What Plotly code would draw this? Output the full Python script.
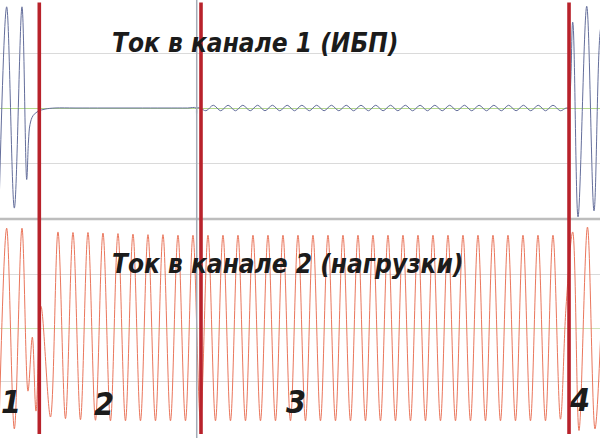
import plotly.graph_objects as go

# ---------------- data (time in ms, current in grid units) ----------------
# Channel 1 (UPS current): key points outside the ripple interval
CH1_T = [-1.3, 8.9, 19.1, 29.3, 35.6, 38.0, 40.0, 44.0, 50.7, 60.0, 73.3,
         100.0, 140.0, 180.0, 220.0, 250.0, 261.3, 262.0, 262.7, 266.7,
         754.7, 757.3, 763.6, 770.7, 782.3, 792.0, 800.0, 805.0]
CH1_V = [-1.82, 1.84, -1.82, 1.84, -1.30, -0.60, -0.30, -0.14, -0.06, -0.02, 0.0,
         0.0, 0.0, 0.0, 0.0, 0.0, 0.0, -0.13, 0.0, 0.0,
         0.0, 0.0, 1.56, -1.98, 1.85, -1.87, 1.36, 1.84]
# Channel 1 ripple in interval 3
RIPPLE_PEAK_T = [284.4, 304.1, 323.8, 343.5, 363.2, 382.9, 402.5, 422.2, 441.9, 461.6,
                 481.3, 501.0, 520.7, 540.4, 560.1, 579.8, 599.5, 619.2, 638.8, 658.5,
                 678.2, 697.9, 717.6, 737.3]
RIPPLE_PEAK_V = [0.05, 0.05, 0.05, 0.05, 0.05, 0.05, 0.05, 0.05, 0.05, 0.05,
                 0.05, 0.05, 0.05, 0.05, 0.05, 0.05, 0.05, 0.05, 0.05, 0.05,
                 0.05, 0.05, 0.05, 0.05]
RIPPLE_DIP_T = [274.6, 294.3, 313.9, 333.6, 353.3, 373.0, 392.7, 412.4, 432.1, 451.8,
                471.5, 491.2, 510.8, 530.5, 550.2, 569.9, 589.6, 609.3, 629.0, 648.7,
                668.4, 688.1, 707.7, 727.4, 747.1]
RIPPLE_DIP_V = [-0.05, -0.05, -0.05, -0.05, -0.05, -0.05, -0.05, -0.05, -0.05, -0.05,
                -0.05, -0.05, -0.05, -0.05, -0.05, -0.05, -0.05, -0.05, -0.05, -0.05,
                -0.05, -0.05, -0.05, -0.05, -0.05]

# Channel 2 (load current): irregular points at the switchings
CH2_T = [-1.3, 8.9, 19.1, 29.3, 37.3, 43.1, 48.0, 54.7,
         754.7, 763.6, 772.0, 783.3, 793.3, 802.7]
CH2_V = [-1.85, 1.85, -1.87, 1.85, -1.17, -0.17, -1.54, 0.40,
         0.39, 1.78, -1.90, 1.87, -1.87, 0.50]
# Channel 2 steady peaks / troughs (intervals 2 and 3)
CH2_PEAK_T = [77.3, 97.3, 117.3, 137.3, 157.3, 177.3, 197.3, 217.3, 237.3, 257.3,
              277.3, 297.3, 317.3, 337.3, 357.3, 377.3, 397.3, 417.3, 437.3, 457.3,
              477.3, 497.3, 517.3, 537.3, 557.3, 577.3, 597.3, 617.3, 637.3, 657.3,
              677.3, 697.3, 717.3, 737.3]
CH2_PEAK_V = [1.78, 1.77, 1.77, 1.76, 1.75, 1.74, 1.73, 1.73, 1.72, 1.72,
              1.72, 1.72, 1.72, 1.72, 1.72, 1.72, 1.72, 1.72, 1.72, 1.72,
              1.72, 1.72, 1.72, 1.72, 1.72, 1.72, 1.72, 1.72, 1.72, 1.72,
              1.72, 1.72, 1.72, 1.72]
CH2_TROUGH_T = [67.3, 87.3, 107.3, 127.3, 147.3, 167.3, 187.3, 207.3, 227.3, 247.3,
                267.3, 287.3, 307.3, 327.3, 347.3, 367.3, 387.3, 407.3, 427.3, 447.3,
                467.3, 487.3, 507.3, 527.3, 547.3, 567.3, 587.3, 607.3, 627.3, 647.3,
                667.3, 687.3, 707.3, 727.3, 747.3]
CH2_TROUGH_V = [-1.65, -1.68, -1.70, -1.71, -1.72, -1.72, -1.72, -1.72, -1.72, -1.72,
                -1.72, -1.72, -1.72, -1.72, -1.72, -1.72, -1.72, -1.72, -1.72, -1.72,
                -1.72, -1.72, -1.72, -1.72, -1.72, -1.72, -1.72, -1.72, -1.72, -1.72,
                -1.72, -1.72, -1.72, -1.72, -1.69]

BOUNDARY_T = [52.4, 268.0, 758.7]      # red switching markers
CURSOR_T = 262.3                       # grey cursor
REGION_LABELS = ["1", "2", "3", "4"]
REGION_LABEL_T = [14.7, 138.0, 394.7, 773.3]
TITLE1 = "Ток в канале 1 (ИБП)"
TITLE2 = "Ток в канале 2 (нагрузки)"


def merge(*pairs):
    pts = []
    for t, v in pairs:
        pts.extend(zip(t, v))
    pts.sort(key=lambda p: p[0])
    return [p[0] for p in pts], [p[1] for p in pts]


ch1_t, ch1_v = merge((CH1_T, CH1_V), (RIPPLE_PEAK_T, RIPPLE_PEAK_V), (RIPPLE_DIP_T, RIPPLE_DIP_V))
ch2_t, ch2_v = merge((CH2_T, CH2_V), (CH2_PEAK_T, CH2_PEAK_V), (CH2_TROUGH_T, CH2_TROUGH_V))

W, H = 600, 438
fig = go.Figure()
fig.add_trace(go.Scatter(x=ch1_t, y=ch1_v, mode="lines", line=dict(color="rgb(100,110,155)", width=1, shape="spline"),
                         xaxis="x", yaxis="y", hoverinfo="skip"))
fig.add_trace(go.Scatter(x=ch2_t, y=ch2_v, mode="lines", line=dict(color="rgb(234,118,92)", width=1, shape="spline"),
                         xaxis="x2", yaxis="y2", hoverinfo="skip"))

ax_common = dict(range=[0, 800], showgrid=False, zeroline=False, showticklabels=False,
                 ticks="", showline=False, fixedrange=True)
yax_common = dict(showticklabels=False, ticks="", showline=False, tickvals=[-1, 1],
                  gridcolor="#dadada", gridwidth=1, zeroline=True, zerolinewidth=1, fixedrange=True)

fig.update_layout(
    width=W, height=H, margin=dict(l=0, r=0, t=0, b=0),
    paper_bgcolor="white", plot_bgcolor="white", showlegend=False,
    xaxis=dict(**ax_common, domain=[0, 1], anchor="y"),
    xaxis2=dict(**ax_common, domain=[0, 1], anchor="y2"),
    yaxis=dict(**yax_common, domain=[1 - 218 / H, 1], range=[-2.0, 1.964], zerolinecolor="#b4d98c"),
    yaxis2=dict(**yax_common, domain=[1 - 437 / H, 1 - 219 / H], range=[-2.02, 2.02], zerolinecolor="#cfe3b8"),
)

shapes = []
# panel separator
shapes.append(dict(type="line", xref="paper", yref="paper", x0=0, x1=1, y0=1 - 219 / H, y1=1 - 219 / H,
                   line=dict(color="#bdbdbd", width=2.5), layer="below"))
# cursor
shapes.append(dict(type="line", xref="x", yref="paper", x0=CURSOR_T, x1=CURSOR_T, y0=0, y1=1,
                   line=dict(color="#a3abb6", width=1.5)))
for t in BOUNDARY_T:
    shapes.append(dict(type="line", xref="x", yref="paper", x0=t, x1=t, y0=1 - 434 / H, y1=1 - 2.5 / H,
                       line=dict(color="#b8222b", width=3.6)))
fig.update_layout(shapes=shapes)

FONT = "Liberation Sans Narrow, Arial Narrow, DejaVu Sans Condensed, sans-serif"
ann = []
ann.append(dict(text=TITLE1, xref="paper", yref="paper", x=255.5 / W, y=1 - 43 / H, showarrow=False,
                xanchor="center", yanchor="middle",
                font=dict(family=FONT, size=26, color="#1b1b1b", weight="bold", style="italic")))
ann.append(dict(text=TITLE2, xref="paper", yref="paper", x=287.5 / W, y=1 - 264 / H, showarrow=False,
                xanchor="center", yanchor="middle",
                font=dict(family=FONT, size=26, color="#1b1b1b", weight="bold", style="italic")))
for lab, t, yy in zip(REGION_LABELS, REGION_LABEL_T, [401.5, 403.5, 402, 400]):
    ann.append(dict(text=lab, xref="x", yref="paper", x=t, y=1 - yy / H, showarrow=False,
                    xanchor="center", yanchor="middle",
                    font=dict(family=FONT, size=32, color="#1b1b1b", weight="bold", style="italic")))
fig.update_layout(annotations=ann)

fig.write_html("out.html", config={"displayModeBar": False},
               post_script="document.body.style.margin='0px';")
